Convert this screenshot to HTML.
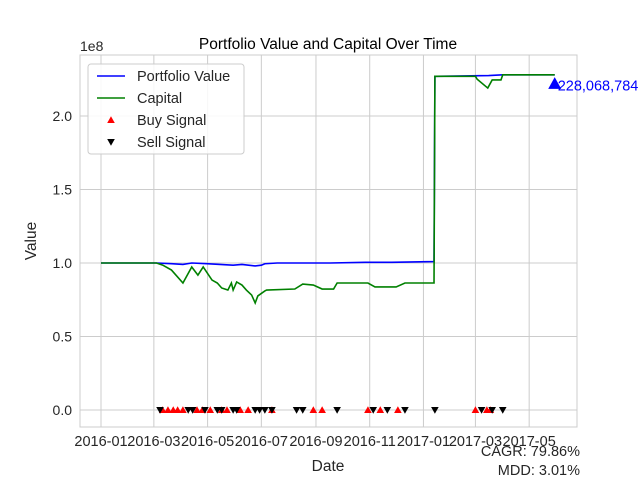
<!DOCTYPE html>
<html><head><meta charset="utf-8"><style>
body{margin:0;background:#fff}
svg{font-family:"Liberation Sans","DejaVu Sans",sans-serif}
</style></head><body>
<svg id="chart" width="640" height="480" xmlns="http://www.w3.org/2000/svg"></svg>
<script>
// data (x = days since 2016-01-01, values in units of 1e8)
const capDays=[0,63,70,80,93,103,110,116,126,132,137,144,148,150,154,160,165,171,175,178,186,188,220,229,241,251,264,268,303,311,317,335,345,378,379,380,425,427,439,444,454,456,515];
const capVals=[1.0,1.0,0.986,0.952,0.864,0.973,0.918,0.973,0.884,0.864,0.83,0.816,0.864,0.816,0.871,0.85,0.816,0.782,0.728,0.776,0.81,0.816,0.823,0.857,0.85,0.823,0.823,0.864,0.864,0.837,0.837,0.837,0.864,0.864,2.27,2.27,2.27,2.25,2.19,2.245,2.245,2.28,2.28];
const pfDays=[0,63,80,93,103,120,135,150,160,175,182,186,200,230,260,300,330,378,379,380,440,456,515];
const pfVals=[1.0,1.0,0.995,0.99,1.0,0.995,0.99,0.985,0.99,0.98,0.985,0.995,1.0,1.0,1.0,1.005,1.005,1.01,2.27,2.27,2.275,2.28,2.28];
const buyDays=[70,76,82,87,93,109,115,124,137,143,158,167,194,241,251,303,317,337,425,438,442];
const sellDays=[67,99,104,118,132,137,150,154,175,180,186,194,222,229,268,309,325,345,379,432,444,456];
const yTicks=[0,0.5,1.0,1.5,2.0];
const xTickLabels=["2016-01","2016-03","2016-05","2016-07","2016-09","2016-11","2017-01","2017-03","2017-05"];
const xTickDays=[0,60,121,182,244,305,366,425,486];
const finalValue="228,068,784";
const finalMarker=2.22;

const NS="http://www.w3.org/2000/svg",svg=document.getElementById('chart');
const L=80,R=577,T=55,B=427;
const X=d=>101+d*0.881, Y=v=>410-v*147;
function mk(t,a,p){const e=document.createElementNS(NS,t);for(const k in a)e.setAttribute(k,a[k]);(p||svg).appendChild(e);return e;}
function txt(s,x,y,a){const e=mk('text',Object.assign({x:x,y:y,'font-size':14,fill:'#262626'},a||{}));e.textContent=s;return e;}
// grid
yTicks.forEach(v=>{const g=mk('line',{x1:L,x2:R,y1:Y(v),y2:Y(v),stroke:'#cccccc','stroke-width':1});


const t=txt(v.toFixed(1),L-8,Y(v)+5,{'text-anchor':'end'});

});
xTickDays.forEach((d,i)=>{const g=mk('line',{x1:X(d),x2:X(d),y1:T,y2:B,stroke:'#cccccc','stroke-width':1});


const t=txt(xTickLabels[i],X(d),446,{'text-anchor':'middle','font-size':14.5});

});
const fr=mk('rect',{x:L,y:T,width:R-L,height:B-T,fill:'none',stroke:'#cccccc','stroke-width':1});


// lines
function line(days,vals,c,n){const p=mk('polyline',{points:days.map((d,i)=>X(d)+','+Y(vals[i])).join(' '),fill:'none',stroke:c,'stroke-width':1.6});

}
line(pfDays,pfVals,'#0000ff','portfolio-line');
line(capDays,capVals,'#008000','capital-line');
function tri(x,y,s,c,up){return mk('polygon',{points:up?`${x},${y-s} ${x-s},${y+s*0.8} ${x+s},${y+s*0.8}`:`${x},${y+s} ${x-s},${y-s*0.8} ${x+s},${y-s*0.8}`,fill:c});}
buyDays.forEach(d=>{const m=tri(X(d),Y(0),3.8,'#ff0000',true);

});
sellDays.forEach(d=>{const m=tri(X(d),Y(0),3.8,'#000000',false);

});
const fm=tri(X(515),Y(finalMarker),6.5,'#0000ff',true);


const fl=txt(finalValue,X(515)+3,Y(finalMarker)+7,{fill:'#0000ff','font-size':14.5});


// labels
const ti=txt('Portfolio Value and Capital Over Time',328,49,{'text-anchor':'middle','font-size':15.5,fill:'#000'});


const ex=txt('1e8',80,51);


const xl=txt('Date',328,471,{'text-anchor':'middle','font-size':15.5});


const yl=txt('Value',0,0,{'text-anchor':'middle','font-size':15.5,transform:'translate(36,241) rotate(-90)'});


const c1=txt('CAGR: 79.86%',580,456,{'text-anchor':'end','font-size':14.5});


const c2=txt('MDD: 3.01%',580,475,{'text-anchor':'end','font-size':14.5});


// legend
const lg=mk('g',{});


mk('rect',{x:88,y:64,width:156,height:90,rx:3,fill:'#fff','fill-opacity':0.85,stroke:'#cccccc'},lg);
const ents=[['Portfolio Value','line','#0000ff'],['Capital','line','#008000'],['Buy Signal','up','#ff0000'],['Sell Signal','down','#000']];
ents.forEach((e,i)=>{const y=76+i*22;const g=mk('g',{},lg);


if(e[1]=='line')mk('line',{x1:97,x2:125,y1:y,y2:y,stroke:e[2],'stroke-width':1.6},g);
else tri(111,y,3.8,e[2],e[1]=='up');
const t=txt(e[0],137,y+5,{'font-size':14.5},g);});
</script>
</body></html>
